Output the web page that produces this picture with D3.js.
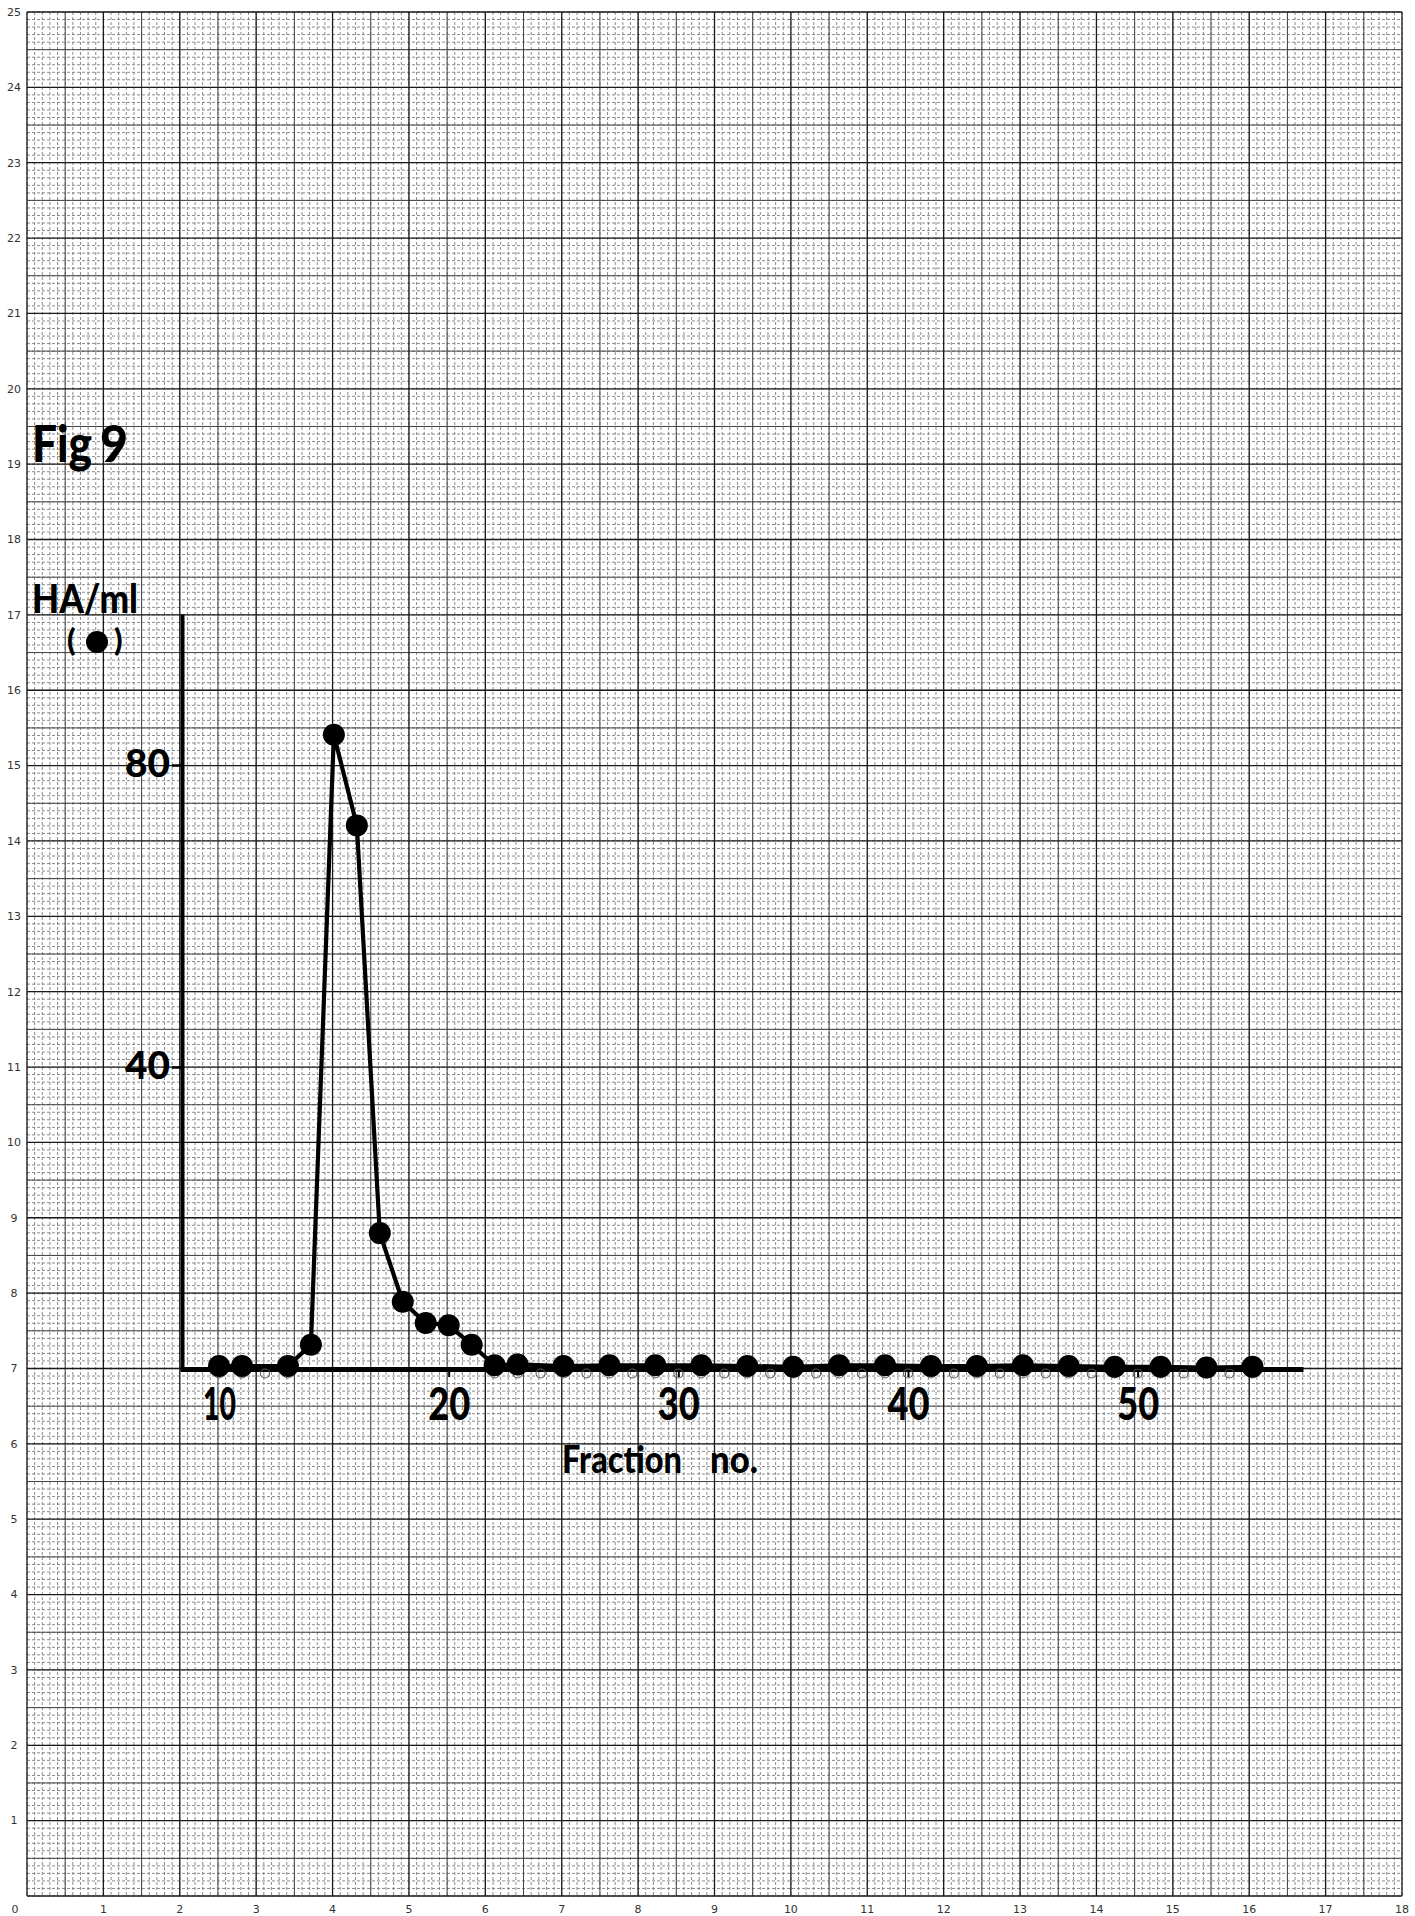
<!DOCTYPE html>
<html>
<head>
<meta charset="utf-8">
<script src="https://cdn.jsdelivr.net/npm/d3@7"></script>
<style>
  html, body { margin: 0; padding: 0; background: #fff; }
  svg { display: block; }
</style>
</head>
<body>
<svg id="chart" width="1415" height="1916"></svg>
<script>
// Graph-paper printed scale labels
const paperXLabels = [0, 1, 2, 3, 4, 5, 6, 7, 8, 9, 10, 11, 12, 13, 14, 15, 16, 17, 18];
const paperYLabels = [1, 2, 3, 4, 5, 6, 7, 8, 9, 10, 11, 12, 13, 14, 15, 16, 17, 18, 19, 20, 21, 22, 23, 24, 25];

// Haemagglutinin titre per fraction (filled circles)
const fractionNo = [10, 11, 13, 14, 15, 16, 17, 18, 19, 20, 21, 22, 23,
                    25, 27, 29, 31, 33, 35, 37, 39, 41, 43, 45, 47, 49, 51, 53, 55];
const haPerMl    = [0.4, 0.4, 0.4, 3.2, 84, 72, 18, 8.9, 6.1, 5.8, 3.2, 0.5, 0.6,
                    0.4, 0.5, 0.5, 0.5, 0.4, 0.3, 0.5, 0.5, 0.4, 0.4, 0.5, 0.4, 0.3, 0.3, 0.2, 0.3];

// Faint open circles riding just under the baseline
const openFractionNo = [10, 11, 12, 13, 22, 23, 24, 25, 26, 27, 28, 29, 30, 31, 32, 33, 34, 35, 36, 37, 38,
                        39, 40, 41, 42, 43, 44, 45, 46, 47, 48, 49, 50, 51, 52, 53, 54, 55];
const openValues     = [-0.6, -0.6, -0.6, -0.6, -0.6, -0.6, -0.6, -0.6, -0.6, -0.6, -0.6, -0.6, -0.6, -0.6,
                        -0.6, -0.6, -0.6, -0.6, -0.6, -0.6, -0.6, -0.6, -0.6, -0.6, -0.6, -0.6, -0.6, -0.6,
                        -0.6, -0.6, -0.6, -0.6, -0.6, -0.6, -0.6, -0.6, -0.6, -0.6];

// Axis ticks
const xTickValues = [10, 20, 30, 40, 50];
const yTickValues = [40, 80];

const svg = d3.select("#chart");
const FONT = "Lato, 'Open Sans', sans-serif";
const WEIGHT = 900;

// ---------- graph paper ----------
const paperX = d3.scaleLinear().domain([0, 18]).range([27, 1402]);
const paperY = d3.scaleLinear().domain([0, 25]).range([1896, 12]);

const paper = svg.append("g").attr("class", "paper");

function gridLines(count, step) {
  return d3.range(0, count + 1).map(i => i * step);
}

// fine tenth-unit lines
const minor = paper.append("g")
  .attr("stroke", "#7e7e7e").attr("stroke-width", 0.9)
  .attr("stroke-dasharray", "3,2").attr("fill", "none");
minor.selectAll("line.vx").data(gridLines(180, 0.1)).join("line")
  .attr("x1", d => paperX(d)).attr("x2", d => paperX(d))
  .attr("y1", paperY(25)).attr("y2", paperY(0));
minor.selectAll("line.hy").data(gridLines(250, 0.1)).join("line")
  .attr("y1", d => paperY(d)).attr("y2", d => paperY(d))
  .attr("x1", paperX(0)).attr("x2", paperX(18));

// half-unit lines
const half = paper.append("g").attr("stroke", "#444").attr("stroke-width", 1);
half.selectAll("line.vx").data(gridLines(18, 1).map(d => d + 0.5).filter(d => d < 18)).join("line")
  .attr("x1", d => paperX(d)).attr("x2", d => paperX(d))
  .attr("y1", paperY(25)).attr("y2", paperY(0));
half.selectAll("line.hy").data(gridLines(25, 1).map(d => d + 0.5).filter(d => d < 25)).join("line")
  .attr("y1", d => paperY(d)).attr("y2", d => paperY(d))
  .attr("x1", paperX(0)).attr("x2", paperX(18));

// whole-unit lines
const unit = paper.append("g").attr("stroke", "#1a1a1a").attr("stroke-width", 1.3);
unit.selectAll("line.vx").data(gridLines(18, 1)).join("line")
  .attr("x1", d => paperX(d)).attr("x2", d => paperX(d))
  .attr("y1", paperY(25)).attr("y2", paperY(0));
unit.selectAll("line.hy").data(gridLines(25, 1)).join("line")
  .attr("y1", d => paperY(d)).attr("y2", d => paperY(d))
  .attr("x1", paperX(0)).attr("x2", paperX(18));

// printed scale numbers
paper.append("g").selectAll("text").data(paperXLabels).join("text")
  .attr("x", d => d === 0 ? paperX(d) - 12 : paperX(d))
  .attr("y", 1913)
  .attr("text-anchor", "middle")
  .attr("font-family", "'DejaVu Sans', sans-serif")
  .attr("font-size", 11).attr("fill", "#333")
  .text(d => d);
paper.append("g").selectAll("text").data(paperYLabels).join("text")
  .attr("x", 14)
  .attr("y", d => paperY(d))
  .attr("dy", "0.35em")
  .attr("text-anchor", "middle")
  .attr("font-family", "'DejaVu Sans', sans-serif")
  .attr("font-size", 11).attr("fill", "#333")
  .text(d => d);

// ---------- plot ----------
const x = d3.scaleLinear().domain([8.3, 57.2]).range([180, 1303]);
const y = d3.scaleLinear().domain([0, 100]).range([1369, 614]);

const xAxis = svg.append("g")
  .attr("transform", `translate(0,${y(0)})`)
  .call(d3.axisBottom(x).tickValues(xTickValues).tickSize(8).tickSizeOuter(0).tickPadding(11));
xAxis.select(".domain").attr("stroke", "#000").attr("stroke-width", 5);
xAxis.selectAll(".tick line").attr("stroke", "#000").attr("stroke-width", 2);
xAxis.selectAll(".tick text")
  .attr("font-family", FONT).attr("font-weight", WEIGHT).attr("font-size", 45).attr("fill", "#000")
  .attr("textLength", d => d === 10 ? 33 : 42)
  .attr("lengthAdjust", "spacingAndGlyphs");

const yAxis = svg.append("g")
  .attr("transform", `translate(182,0)`)
  .call(d3.axisLeft(y).tickValues(yTickValues).tickSize(10).tickSizeOuter(0).tickPadding(2));
yAxis.select(".domain").attr("stroke", "#000").attr("stroke-width", 4);
yAxis.selectAll(".tick line").attr("stroke", "#000").attr("stroke-width", 2.5);
yAxis.selectAll(".tick text")
  .attr("font-family", FONT).attr("font-weight", WEIGHT).attr("font-size", 37).attr("fill", "#000")
  .attr("textLength", 45).attr("lengthAdjust", "spacingAndGlyphs");

// open circles under the baseline
svg.append("g").selectAll("circle").data(openFractionNo.map((f, i) => [f, openValues[i]])).join("circle")
  .attr("cx", d => x(d[0])).attr("cy", d => y(d[1]))
  .attr("r", 4.5).attr("fill", "none").attr("stroke", "#555").attr("stroke-width", 1.1);

// HA titre line and filled markers
const haPoints = fractionNo.map((f, i) => [f, haPerMl[i]]);
svg.append("path")
  .datum(haPoints)
  .attr("fill", "none").attr("stroke", "#000").attr("stroke-width", 4.2)
  .attr("stroke-linejoin", "round")
  .attr("d", d3.line().x(d => x(d[0])).y(d => y(d[1])));
svg.append("g").selectAll("circle").data(haPoints).join("circle")
  .attr("cx", d => x(d[0])).attr("cy", d => y(d[1]))
  .attr("r", 11).attr("fill", "#000");

// ---------- labels ----------
const fig = svg.append("text").attr("font-family", FONT).attr("font-weight", WEIGHT)
  .attr("font-size", 51).attr("fill", "#000").attr("y", 462);
fig.append("tspan").attr("x", 32).attr("textLength", 60).attr("lengthAdjust", "spacingAndGlyphs").text("Fig");
fig.append("tspan").attr("x", 100).attr("textLength", 28).attr("lengthAdjust", "spacingAndGlyphs").text("9");

svg.append("text").attr("font-family", FONT).attr("font-weight", WEIGHT)
  .attr("font-size", 39).attr("fill", "#000")
  .attr("x", 32).attr("y", 613)
  .attr("textLength", 106).attr("lengthAdjust", "spacingAndGlyphs")
  .text("HA/ml");

// legend symbol "(●)"
const legend = svg.append("g");
legend.append("text").attr("font-family", FONT).attr("font-weight", WEIGHT)
  .attr("font-size", 31).attr("x", 67).attr("y", 651).text("(");
legend.append("circle").attr("cx", 97).attr("cy", 642).attr("r", 11).attr("fill", "#000");
legend.append("text").attr("font-family", FONT).attr("font-weight", WEIGHT)
  .attr("font-size", 31).attr("x", 114).attr("y", 651).text(")");

const xl = svg.append("text").attr("font-family", FONT).attr("font-weight", WEIGHT)
  .attr("font-size", 37).attr("fill", "#000").attr("y", 1473);
xl.append("tspan").attr("x", 562).attr("textLength", 120).attr("lengthAdjust", "spacingAndGlyphs").text("Fraction");
xl.append("tspan").attr("x", 710).attr("textLength", 48).attr("lengthAdjust", "spacingAndGlyphs").text("no.");
</script>
</body>
</html>
